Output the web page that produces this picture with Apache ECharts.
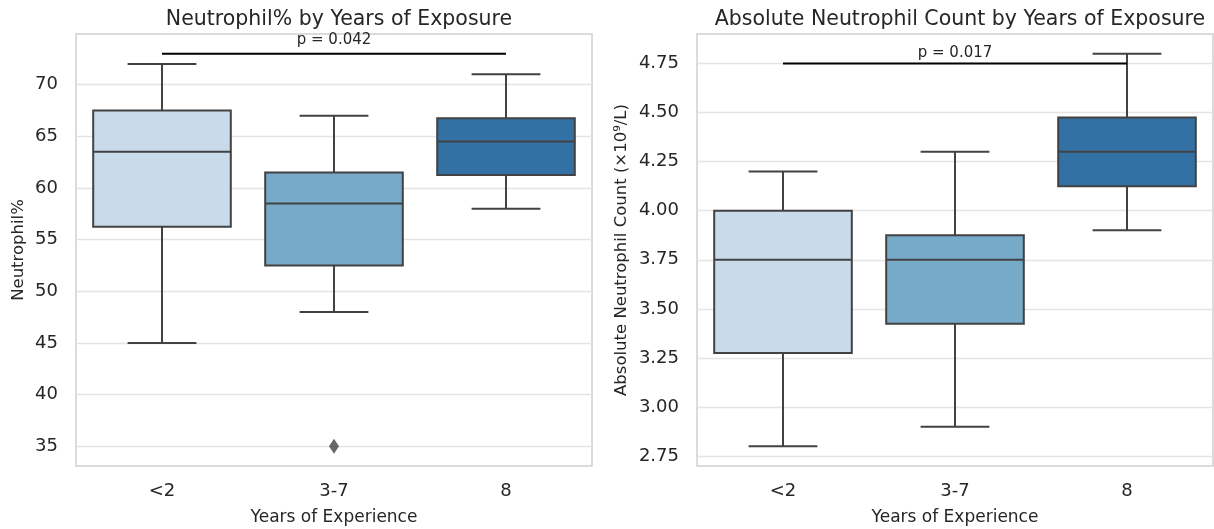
<!DOCTYPE html>
<html>
<head>
<meta charset="utf-8">
<script src="https://cdn.jsdelivr.net/npm/echarts@6/dist/echarts.min.js"></script>
<style>html,body{margin:0;padding:0;background:#fff}#c{width:1214px;height:529px}</style>
</head>
<body>
<div id="c"></div>
<script>
const categories = ['<2', '3-7', '8'];
const boxColors = ['#c9dbeb', '#77a9c8', '#3370a4'];

// Neutrophil %
const neutLow = [45, 48, 58];
const neutQ1 = [56.25, 52.5, 61.25];
const neutMed = [63.5, 58.5, 64.5];
const neutQ3 = [67.5, 61.5, 66.75];
const neutHigh = [72, 67, 71];
const neutOutliers = [[1, 35]];
const neutTicks = [35, 40, 45, 50, 55, 60, 65, 70];
const neutP = { from: 0, to: 2, y: 73, label: 'p = 0.042' };

// Absolute neutrophil count
const ancLow = [2.8, 2.9, 3.9];
const ancQ1 = [3.275, 3.425, 4.125];
const ancMed = [3.75, 3.75, 4.3];
const ancQ3 = [4.0, 3.875, 4.475];
const ancHigh = [4.2, 4.3, 4.8];
const ancTicks = [2.75, 3.0, 3.25, 3.5, 3.75, 4.0, 4.25, 4.5, 4.75];
const ancP = { from: 0, to: 2, y: 4.75, label: 'p = 0.017' };

const LINE = '#424242';
const FONT = 'DejaVu Sans';
const TXT = '#262626';

function boxData(low, q1, med, q3, high) {
  return categories.map((c, i) => [i, low[i], q1[i], med[i], q3[i], high[i]]);
}

function renderBox(params, api) {
  const i = api.value(0);
  const band = api.size([1, 0])[0];
  const bw = band * 0.8, cw = band * 0.4;
  const pLow = api.coord([i, api.value(1)]);
  const pQ1 = api.coord([i, api.value(2)]);
  const pMed = api.coord([i, api.value(3)]);
  const pQ3 = api.coord([i, api.value(4)]);
  const pHigh = api.coord([i, api.value(5)]);
  const x = pLow[0];
  const ls = { stroke: LINE, lineWidth: 2 };
  return {
    type: 'group',
    children: [
      { type: 'line', shape: { x1: x, y1: pQ1[1], x2: x, y2: pLow[1] }, style: ls },
      { type: 'line', shape: { x1: x, y1: pQ3[1], x2: x, y2: pHigh[1] }, style: ls },
      { type: 'line', shape: { x1: x - cw / 2, y1: pLow[1], x2: x + cw / 2, y2: pLow[1] }, style: ls },
      { type: 'line', shape: { x1: x - cw / 2, y1: pHigh[1], x2: x + cw / 2, y2: pHigh[1] }, style: ls },
      { type: 'rect', shape: { x: x - bw / 2, y: pQ3[1], width: bw, height: pQ1[1] - pQ3[1] },
        style: { fill: boxColors[i], stroke: LINE, lineWidth: 2 } },
      { type: 'line', shape: { x1: x - bw / 2, y1: pMed[1], x2: x + bw / 2, y2: pMed[1] }, style: ls }
    ]
  };
}

function renderP(p, dy) {
  return function (params, api) {
    const a = api.coord([p.from, p.y]);
    const b = api.coord([p.to, p.y]);
    const m = api.coord([(p.from + p.to) / 2, p.y]);
    return {
      type: 'group',
      children: [
        { type: 'line', shape: { x1: a[0], y1: a[1], x2: b[0], y2: b[1] }, style: { stroke: '#000', lineWidth: 2 } },
        { type: 'text', x: m[0], y: m[1] - dy, style: { text: p.label, fill: TXT, font: '15px ' + FONT, align: 'center', verticalAlign: 'bottom' } }
      ]
    };
  };
}

function yAxis(gi, min, max, ticks, name, gap, digits) {
  return {
    gridIndex: gi, type: 'value', min: min, max: max,
    name: name, nameLocation: 'middle', nameGap: gap, nameRotate: 90,
    nameTextStyle: { fontFamily: FONT, fontSize: 16.5, color: TXT },
    axisLine: { show: false },
    axisTick: { show: false, customValues: ticks },
    axisLabel: { customValues: ticks, fontFamily: FONT, fontSize: 18, color: TXT, margin: 18,
      formatter: v => digits ? v.toFixed(digits) : String(v) },
    splitLine: { show: true, lineStyle: { color: '#e4e4e4', width: 1.3 } }
  };
}

function xAxis(gi) {
  return {
    gridIndex: gi, type: 'category', data: categories, boundaryGap: true,
    name: 'Years of Experience', nameLocation: 'middle', nameGap: 43,
    nameTextStyle: { fontFamily: FONT, fontSize: 17, color: TXT },
    axisLine: { show: false }, axisTick: { show: false },
    axisLabel: { fontFamily: FONT, fontSize: 18, color: TXT, margin: 16 },
    splitLine: { show: false }
  };
}

const chart = echarts.init(document.getElementById('c'), null, { renderer: 'canvas' });
chart.setOption({
  animation: false,
  backgroundColor: '#fff',
  title: [
    { text: 'Neutrophil% by Years of Exposure', left: 334, top: 4, textAlign: 'center',
      textStyle: { fontFamily: FONT, fontSize: 20.5, fontWeight: 'normal', color: TXT } },
    { text: 'Absolute Neutrophil Count by Years of Exposure', left: 955, top: 4, textAlign: 'center',
      textStyle: { fontFamily: FONT, fontSize: 20.5, fontWeight: 'normal', color: TXT } }
  ],
  grid: [
    { left: 76, top: 34, width: 516, height: 432, show: true, borderColor: '#cfcfcf', borderWidth: 1.5,
      backgroundColor: 'transparent', containLabel: false, outerBoundsMode: 'none' },
    { left: 697, top: 34, width: 516, height: 432, show: true, borderColor: '#cfcfcf', borderWidth: 1.5,
      backgroundColor: 'transparent', containLabel: false, outerBoundsMode: 'none' }
  ],
  xAxis: [xAxis(0), xAxis(1)],
  yAxis: [
    yAxis(0, 33.1, 74.9, neutTicks, 'Neutrophil%', 49, 0),
    yAxis(1, 2.7, 4.9, ancTicks, 'Absolute Neutrophil Count (×10⁹/L)', 67, 2)
  ],
  series: [
    { type: 'custom', xAxisIndex: 0, yAxisIndex: 0, renderItem: renderBox,
      data: boxData(neutLow, neutQ1, neutMed, neutQ3, neutHigh), encode: { x: 0, y: [1, 2, 3, 4, 5] }, clip: false },
    { type: 'scatter', xAxisIndex: 0, yAxisIndex: 0, symbol: 'diamond', symbolSize: [10, 15],
      itemStyle: { color: LINE }, data: neutOutliers },
    { type: 'custom', xAxisIndex: 0, yAxisIndex: 0, renderItem: renderP(neutP, 6), data: [[neutP.from, neutP.y]], clip: false },
    { type: 'custom', xAxisIndex: 1, yAxisIndex: 1, renderItem: renderBox,
      data: boxData(ancLow, ancQ1, ancMed, ancQ3, ancHigh), encode: { x: 0, y: [1, 2, 3, 4, 5] }, clip: false },
    { type: 'custom', xAxisIndex: 1, yAxisIndex: 1, renderItem: renderP(ancP, 3), data: [[ancP.from, ancP.y]], clip: false }
  ]
});
</script>
</body>
</html>
